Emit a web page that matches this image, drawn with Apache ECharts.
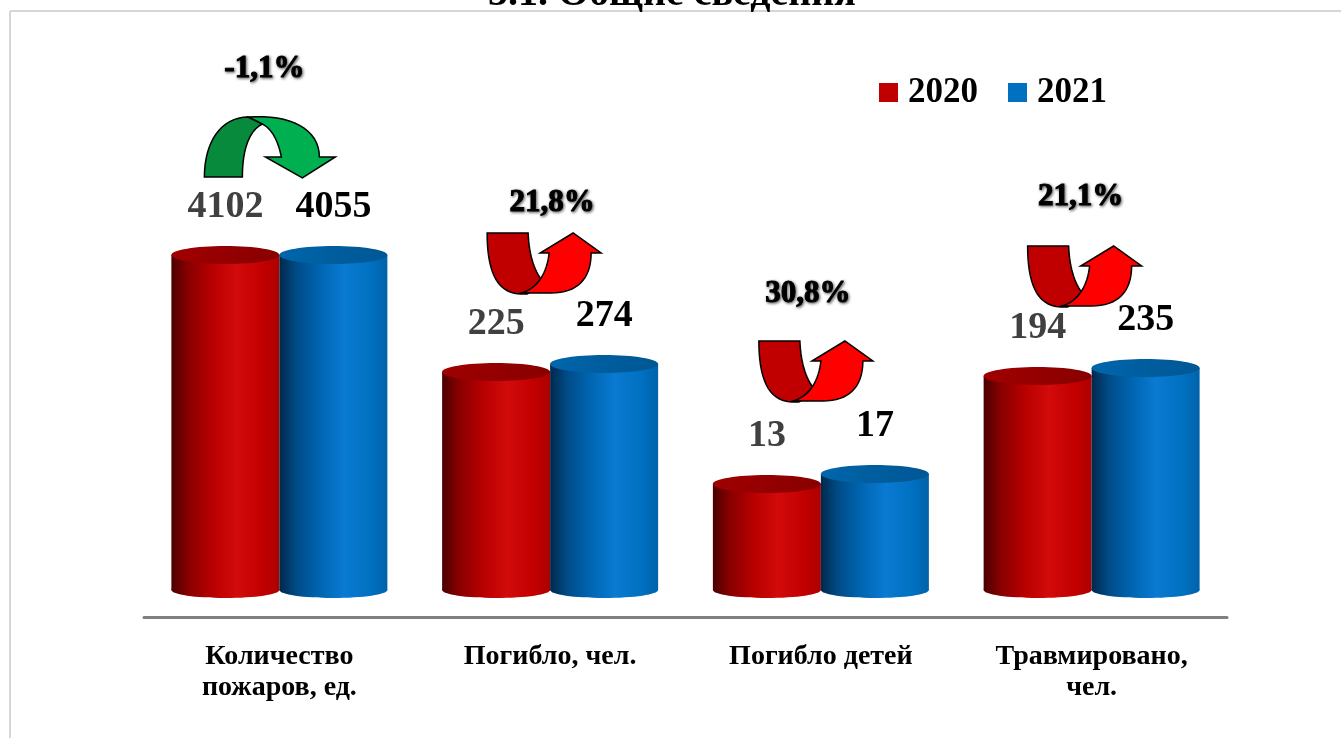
<!DOCTYPE html>
<html>
<head>
<meta charset="utf-8">
<title>3.1. Общие сведения</title>
<script src="https://cdn.jsdelivr.net/npm/echarts@6/dist/echarts.min.js"></script>
<style>
  html, body { margin: 0; padding: 0; background: #fff; }
  #chart { width: 1341px; height: 738px; }
</style>
</head>
<body>
<div id="chart"></div>
<script>
  var categories = ['Количество\nпожаров, ед.', 'Погибло, чел.', 'Погибло детей', 'Травмировано,\nчел.'];
  var seriesNames = ['2020', '2021'];
  var values2020 = [4102, 225, 13, 194];
  var values2021 = [4055, 274, 17, 235];
  // высота цилиндров как на рисунке (у каждой группы свой масштаб)
  var heights2020 = [335, 218, 106, 214];
  var heights2021 = [335, 226, 116, 222];

  var FONT = '"Times New Roman", "Liberation Serif", serif';
  var BAR_W = 108;

  var chart = echarts.init(document.getElementById('chart'));

  var redBody = {type: 'linear', x: 0, y: 0, x2: 1, y2: 0, colorStops: [
    {offset: 0, color: '#4a0000'}, {offset: 0.15, color: '#860000'},
    {offset: 0.38, color: '#b80000'}, {offset: 0.6, color: '#d20a0a'},
    {offset: 0.85, color: '#c20000'}, {offset: 1, color: '#ac0000'}]};
  var redTop = {type: 'linear', x: 0, y: 0, x2: 1, y2: 0, colorStops: [
    {offset: 0, color: '#a00000'}, {offset: 0.5, color: '#940000'}, {offset: 1, color: '#880000'}]};
  var blueBody = {type: 'linear', x: 0, y: 0, x2: 1, y2: 0, colorStops: [
    {offset: 0, color: '#00284a'}, {offset: 0.15, color: '#004a85'},
    {offset: 0.38, color: '#0066b3'}, {offset: 0.6, color: '#0a7ad2'},
    {offset: 0.85, color: '#0070c0'}, {offset: 1, color: '#0062aa'}]};
  var blueTop = {type: 'linear', x: 0, y: 0, x2: 1, y2: 0, colorStops: [
    {offset: 0, color: '#0066ac'}, {offset: 0.5, color: '#005d9e'}, {offset: 1, color: '#005794'}]};

  function cylinder(side, body, top, labels, labelColor) {
    return function (params, api) {
      var i = api.value(0);
      var pt = api.coord([i, api.value(1)]);
      var base = api.coord([i, 0]);
      var cx = pt[0] + side * BAR_W / 2;
      var x0 = cx - BAR_W / 2;
      return {
        type: 'group',
        children: [
          {type: 'rect', shape: {x: x0, y: pt[1], width: BAR_W, height: base[1] - pt[1]}, style: {fill: body}},
          {type: 'ellipse', shape: {cx: cx, cy: base[1], rx: BAR_W / 2, ry: 8}, style: {fill: body}},
          {type: 'ellipse', shape: {cx: cx, cy: pt[1], rx: BAR_W / 2, ry: 9}, style: {fill: top}},
          {type: 'text', x: cx, y: pt[1] - 48, style: {
            text: String(labels[params.dataIndex]), fill: labelColor,
            font: 'bold 38px ' + FONT, align: 'center', verticalAlign: 'middle',
            textAlign: 'center', textVerticalAlign: 'middle'}}
        ]
      };
    };
  }

  var option = {
    backgroundColor: '#fff',
    animation: false,
    legend: {
      left: 879, top: 75, padding: 0,
      itemWidth: 19, itemHeight: 19, itemGap: 30,
      textStyle: {fontSize: 35, fontWeight: 'bold', color: '#000', fontFamily: FONT, padding: [0, 0, 0, 5]},
      data: [
        {name: seriesNames[0], icon: 'rect', itemStyle: {color: '#c00000'}},
        {name: seriesNames[1], icon: 'rect', itemStyle: {color: '#0070c0'}}
      ]
    },
    grid: {left: 144, right: 114, top: 190, bottom: 148},
    xAxis: {
      type: 'category',
      data: categories,
      offset: 27,
      axisLine: {onZero: false, lineStyle: {color: '#7f7f7f', width: 3}},
      axisTick: {show: false},
      axisLabel: {interval: 0, margin: 24, fontSize: 28, fontWeight: 'bold', color: '#000',
        fontFamily: FONT, lineHeight: 31}
    },
    yAxis: {type: 'value', min: 0, max: 400, show: false},
    series: [
      {name: seriesNames[0], type: 'custom', clip: false, itemStyle: {color: '#c00000'},
        renderItem: cylinder(-1, redBody, redTop, values2020, '#404040'),
        data: heights2020.map(function (h, i) { return [i, h]; })},
      {name: seriesNames[1], type: 'custom', clip: false, itemStyle: {color: '#0070c0'},
        renderItem: cylinder(1, blueBody, blueTop, values2021, '#000'),
        data: heights2021.map(function (h, i) { return [i, h]; })}
    ]
  };
  chart.setOption(option);

  // ----- стрелки и проценты -----
  function bez(p0, p1, p2, p3) {
    var pts = [];
    for (var k = 1; k <= 16; k++) {
      var t = k / 16, u = 1 - t;
      pts.push([
        u * u * u * p0[0] + 3 * u * u * t * p1[0] + 3 * u * t * t * p2[0] + t * t * t * p3[0],
        u * u * u * p0[1] + 3 * u * u * t * p1[1] + 3 * u * t * t * p2[1] + t * t * t * p3[1]
      ]);
    }
    return pts;
  }

  function upArrow() {
    var dark = [[0, 0], [41, 0]].concat(bez([41, 0], [42, 24], [48, 40], [57, 50]),
      [[40, 61], [33, 61]], bez([33, 61], [8, 60], [0, 35], [0, 0]));
    var light = [[34, 60], [64, 60]].concat(bez([64, 60], [90, 60], [104, 46], [104, 20]),
      [[114, 20], [86, 0], [53, 20], [62, 20]], bez([62, 20], [60, 38], [52, 55], [34, 60]));
    return [dark, light, '#c00000', '#ff0000'];
  }

  function downArrow() {
    var dark = [[0, 60]].concat(bez([0, 60], [0, 26], [16, 0], [44, 0]),
      [[58, 7]], bez([58, 7], [46, 13], [38, 30], [38, 60]));
    var light = [[44, 0]].concat(bez([44, 0], [86, -3], [115, 12], [115, 40]),
      [[131, 40], [98, 61], [61, 40], [77, 40]], bez([77, 40], [74, 25], [68, 12], [58, 7]));
    return [dark, light, '#078a3c', '#00b050'];
  }

  // смещения подписей относительно центра группы и верха большего столбика
  var arrowDx = [-75, -63, -62, -64];
  var arrowDy = [-138, -131, -133, -122];
  var pctDx = [-15, 2, -13, -11];
  var pctDy = [-186, -161, -180, -171];

  var graphics = [
    {type: 'line', z: 0, shape: {x1: 10, y1: 11, x2: 1341, y2: 11}, style: {stroke: '#d6d6d6', lineWidth: 2}},
    {type: 'line', z: 0, shape: {x1: 10, y1: 11, x2: 10, y2: 738}, style: {stroke: '#d6d6d6', lineWidth: 2}},
    {type: 'text', z: 5, x: 672, y: -5, style: {text: '3.1. Общие сведения', fill: '#000',
      font: 'bold 40px ' + FONT, align: 'center', verticalAlign: 'middle',
      textAlign: 'center', textVerticalAlign: 'middle'}}
  ];

  for (var i = 0; i < categories.length; i++) {
    var cx = chart.convertToPixel({xAxisIndex: 0}, i);
    var topY = chart.convertToPixel({yAxisIndex: 0}, Math.max(heights2020[i], heights2021[i]));
    var change = (values2021[i] - values2020[i]) / values2020[i] * 100;
    var pct = change.toFixed(1).replace('.', ',') + '%';
    var a = change < 0 ? downArrow() : upArrow();
    graphics.push({
      type: 'group', x: cx + arrowDx[i], y: topY + arrowDy[i], z: 10,
      children: [
        {type: 'polygon', shape: {points: a[0]}, style: {fill: a[2], stroke: '#000', lineWidth: 1.5}},
        {type: 'polygon', shape: {points: a[1]}, style: {fill: a[3], stroke: '#000', lineWidth: 1.5}}
      ]
    });
    graphics.push({
      type: 'text', z: 10, x: cx + pctDx[i], y: topY + pctDy[i],
      style: {text: pct, fill: '#000', font: 'bold 31px ' + FONT,
        stroke: '#000', lineWidth: 1,
        align: 'center', verticalAlign: 'middle', textAlign: 'center', textVerticalAlign: 'middle',
        textShadowColor: 'rgba(0,0,0,0.6)', textShadowBlur: 3, textShadowOffsetX: 1, textShadowOffsetY: 1}
    });
  }

  chart.setOption({graphic: graphics});
</script>
</body>
</html>
